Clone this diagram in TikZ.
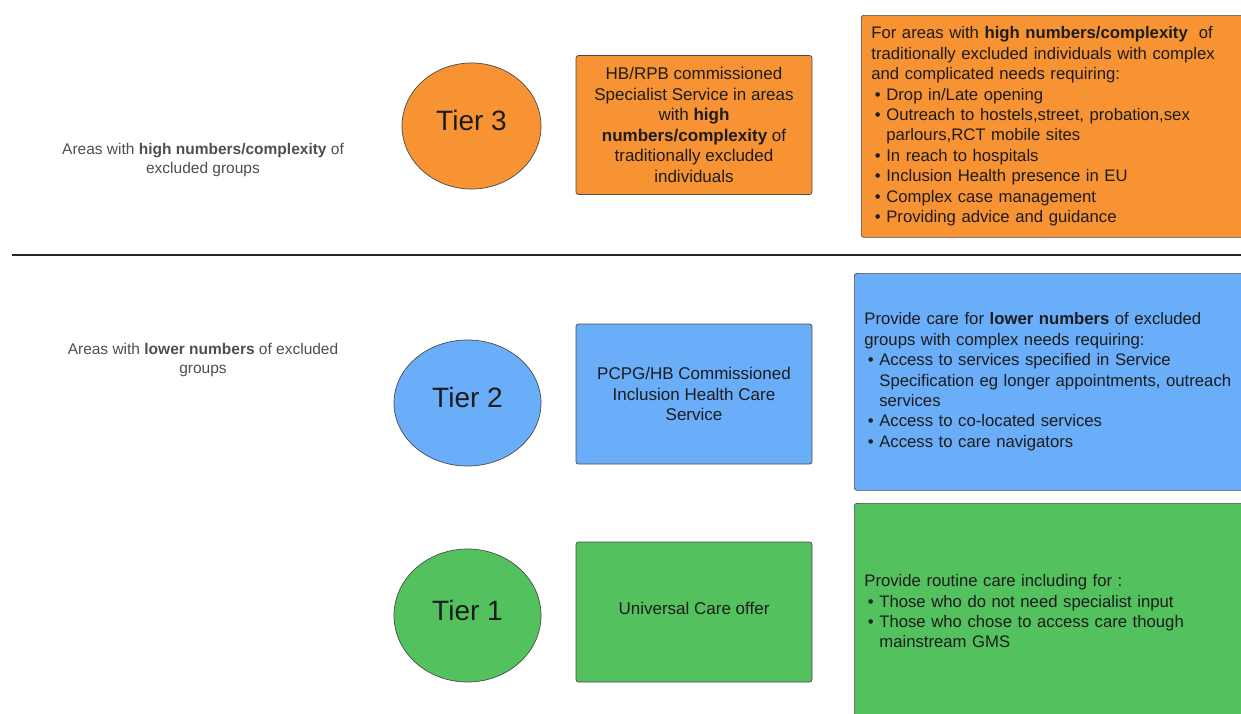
\documentclass[tikz,border=0pt]{standalone}
\usepackage{fontspec}
\setmainfont{Liberation Sans}
\usepackage{xcolor}
\usetikzlibrary{shapes.geometric, positioning}

\definecolor{tierorange}{RGB}{247,147,50}
\definecolor{tierblue}{RGB}{106,173,248}
\definecolor{tiergreen}{RGB}{84,193,95}
\definecolor{edgegray}{RGB}{75,75,75}
\definecolor{areagray}{RGB}{78,78,78}
\definecolor{inktext}{RGB}{28,28,28}

\newcommand{\bitem}{\makebox[15pt][l]{\hspace{3.5pt}\textbullet}}
\newcommand{\bcont}{\hspace*{15pt}}

\begin{document}
\begin{tikzpicture}[x=1pt, y=-1pt,
    tier/.style={ellipse, draw=edgegray, line width=0.7pt, inner sep=0pt,
        text depth=11pt, text=inktext, font=\fontsize{28}{30}\selectfont},
    service/.style={rectangle, rounded corners=2.5pt, draw=edgegray, line width=0.7pt,
        minimum width=236pt, minimum height=139pt, inner sep=0pt, align=center,
        text=inktext, font=\fontsize{17}{20.5}\selectfont},
    needs/.style={rectangle, rounded corners=2.5pt, draw=edgegray, line width=0.7pt,
        anchor=north west, inner xsep=9.5pt, inner ysep=0pt, text width=380pt,
        minimum width=400pt, align=left, text=inktext,
        font=\fontsize{16.7}{20.4}\selectfont},
    area/.style={align=center, text=areagray, font=\fontsize{15.5}{19}\selectfont}]

    % =================================================================
    % 1. PAGE FRAME AND DIVIDER
    % =================================================================
    \useasboundingbox (0,0) rectangle (1241,713);
    \clip (0,0) rectangle (1241,713);

    \coordinate (divL) at (12,255);    % left end of the divider
    \coordinate (divR) at (1241,255);  % right end of the divider
    \draw[line width=2.2pt, black!85] (divL) -- (divR);

    % =================================================================
    % 2. AREA LABELS (LEFT)
    % =================================================================
    \node[area] (areaHigh) at (203,160)
        {Areas with \textbf{high numbers/complexity} of\\excluded groups};
    \node[area] (areaLow) at (203,360)
        {Areas with \textbf{lower numbers} of excluded\\groups};

    % =================================================================
    % 3. TIER 3
    % =================================================================
    \node[tier, fill=tierorange, minimum width=139pt, minimum height=126pt]
        (tier3) at (471.5,126) {Tier 3};
    \node[service, fill=tierorange] (serv3) at (694,125)
        {HB/RPB commissioned\\Specialist Service in areas\\with \textbf{high}\\
         \textbf{numbers/complexity} of\\traditionally excluded\\individuals};
    \node[needs, fill=tierorange, minimum height=222pt] (need3) at (861,15)
        {For areas with \textbf{high numbers/complexity}\ \ of\\
         traditionally excluded individuals with complex\\
         and complicated needs requiring:\\
         \bitem Drop in/Late opening\\
         \bitem Outreach to hostels,street, probation,sex\\
         \bcont parlours,RCT mobile sites\\
         \bitem In reach to hospitals\\
         \bitem Inclusion Health presence in EU\\
         \bitem Complex case management\\
         \bitem Providing advice and guidance};

    % =================================================================
    % 4. TIER 2
    % =================================================================
    \node[tier, fill=tierblue, minimum width=147pt, minimum height=126pt]
        (tier2) at (467.5,403) {Tier 2};
    \node[service, fill=tierblue, minimum height=140pt] (serv2) at (694,394)
        {PCPG/HB Commissioned\\Inclusion Health Care\\Service};
    \node[needs, fill=tierblue, minimum height=217pt, inner xsep=9pt] (need2) at (854,273)
        {Provide care for \textbf{lower numbers} of excluded\\
         groups with complex needs requiring:\\
         \bitem Access to services specified in Service\\
         \bcont Specification eg longer appointments, outreach\\
         \bcont services\\
         \bitem Access to co-located services\\
         \bitem Access to care navigators};

    % =================================================================
    % 5. TIER 1
    % =================================================================
    \node[tier, fill=tiergreen, minimum width=147pt, minimum height=133pt]
        (tier1) at (467.5,615.5) {Tier 1};
    \node[service, fill=tiergreen, minimum height=140pt, text depth=7pt] (serv1) at (694,612)
        {Universal Care offer};
    \node[needs, fill=tiergreen, minimum height=216pt, inner xsep=9pt] (need1) at (854,503)
        {Provide routine care including for :\\
         \bitem Those who do not need specialist input\\
         \bitem Those who chose to access care though\\
         \bcont mainstream GMS};

\end{tikzpicture}
\end{document}
